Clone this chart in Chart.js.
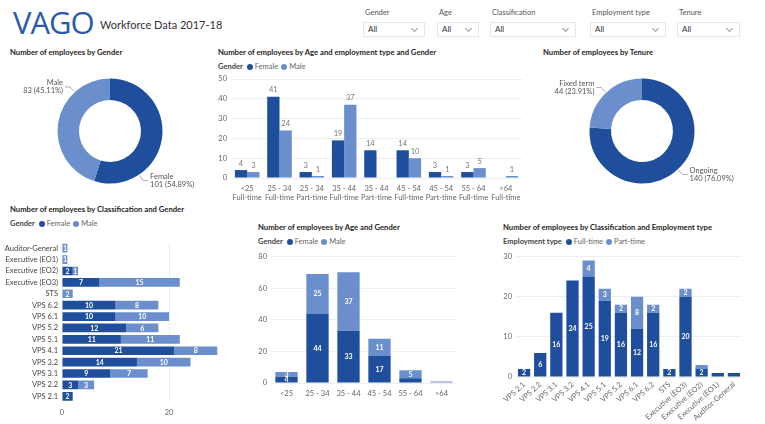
<!DOCTYPE html>
<html>
<head>
<meta charset="utf-8">
<script src="https://cdn.jsdelivr.net/npm/chart.js@4.4.0/dist/chart.umd.min.js"></script>
<style>
  body { margin: 0; width: 765px; height: 424px; background: #fff; position: relative; overflow: hidden;
         font-family: Lato, 'Open Sans', sans-serif; color: #333; }
  .abs { position: absolute; }
  canvas { position: absolute; }
  .logo { left: 13px; top: 4px; font-family: 'Open Sans', sans-serif; font-size: 31px; color: #2b5ba8; letter-spacing: -1px; line-height: 36px; }
  .sub { left: 100px; top: 18px; font-size: 11px; color: #333; line-height: 14px; }
  .slabel { font-size: 7.5px; color: #555; line-height: 9px; }
  .sel { height: 15px; border: 1px solid #e6e6e6; box-sizing: border-box; font-size: 8px; line-height: 13px; padding-left: 4px; color: #333; }
  .sel::after { content: ''; position: absolute; right: 7px; top: 3px; width: 4px; height: 4px;
                border-right: 1px solid #999; border-bottom: 1px solid #999; transform: rotate(45deg); }
  .title { font-size: 7.7px; font-weight: 700; color: #252423; line-height: 10px; white-space: nowrap; }
  .legend { font-size: 7.5px; color: #666; line-height: 10px; white-space: nowrap; }
  .legend b { color: #444; font-weight: 700; margin-right: 3px; }
  .dot { display: inline-block; width: 6px; height: 6px; border-radius: 50%; margin: 0 2px 0 1px; vertical-align: -0.5px; }
</style>
</head>
<body>
<div class="abs logo">VAGO</div>
<div class="abs sub">Workforce Data 2017-18</div>
<div id="slicers"></div>

<div class="abs title" style="left:10px;top:47px">Number of employees by Gender</div>
<div class="abs title" style="left:218px;top:47px">Number of employees by Age and employment type and Gender</div>
<div class="abs title" style="left:543px;top:47px">Number of employees by Tenure</div>
<div class="abs title" style="left:10px;top:204px">Number of employees by Classification and Gender</div>
<div class="abs title" style="left:258px;top:222px">Number of employees by Age and Gender</div>
<div class="abs title" style="left:503px;top:222px">Number of employees by Classification and Employment type</div>

<div class="abs legend" id="lg2" style="left:218px;top:62px"></div>
<div class="abs legend" id="lg4" style="left:10px;top:219px"></div>
<div class="abs legend" id="lg5" style="left:258px;top:237px"></div>
<div class="abs legend" id="lg6" style="left:503px;top:237px"></div>

<canvas id="genderChart" width="200" height="160" style="left:10px;top:51px"></canvas>
<canvas id="ageTypeChart" width="318" height="135" style="left:210px;top:70px"></canvas>
<canvas id="tenureChart" width="200" height="160" style="left:542px;top:51px"></canvas>
<canvas id="classGenderChart" width="250" height="185" style="left:0px;top:234px"></canvas>
<canvas id="ageGenderChart" width="215" height="160" style="left:250px;top:248px"></canvas>
<canvas id="classTypeChart" width="270" height="176" style="left:495px;top:248px"></canvas>

<script>
// Colours
const DARK = '#1f4e9d';
const LIGHT = '#6b8fcd';

// Slicers
const slicerNames = ['Gender', 'Age', 'Classification', 'Employment type', 'Tenure'];
const slicerLeft = [363, 437, 490, 590, 677];
const slicerWidth = [62, 42, 86, 76, 63];

// Gender donut
const genderLabels = ['Female', 'Male'];
const genderCounts = [101, 83];

// Tenure donut
const tenureLabels = ['Ongoing', 'Fixed term'];
const tenureCounts = [140, 44];

// Age and employment type and gender
const ageTypeLabels = [['<25', 'Full-time'], ['25 - 34', 'Full-time'], ['25 - 34', 'Part-time'],
  ['35 - 44', 'Full-time'], ['35 - 44', 'Part-time'], ['45 - 54', 'Full-time'],
  ['45 - 54', 'Part-time'], ['55 - 64', 'Full-time'], ['>64', 'Full-time']];
const ageTypeFemale = [4, 41, 3, 19, 14, 14, 3, 3, 0];
const ageTypeMale = [3, 24, 1, 37, 0, 10, 1, 5, 1];

// Classification and gender
const classLabels = ['Auditor-General', 'Executive (EO1)', 'Executive (EO2)', 'Executive (EO3)', 'STS',
  'VPS 6.2', 'VPS 6.1', 'VPS 5.2', 'VPS 5.1', 'VPS 4.1', 'VPS 3.2', 'VPS 3.1', 'VPS 2.2', 'VPS 2.1'];
const classFemale = [0, 0, 2, 7, 0, 10, 10, 12, 11, 21, 14, 9, 3, 2];
const classMale = [1, 1, 1, 15, 2, 8, 10, 6, 11, 8, 10, 7, 3, 0];

// Age and gender
const ageLabels = ['<25', '25 - 34', '35 - 44', '45 - 54', '55 - 64', '>64'];
const ageFemale = [4, 44, 33, 17, 3, 0];
const ageMale = [3, 25, 37, 11, 5, 1];

// Classification and employment type
const typeClassLabels = ['VPS 2.1', 'VPS 2.2', 'VPS 3.1', 'VPS 3.2', 'VPS 4.1', 'VPS 5.1', 'VPS 5.2',
  'VPS 6.1', 'VPS 6.2', 'STS', 'Executive (EO3)', 'Executive (EO2)', 'Executive (EO1)', 'Auditor-General'];
const fullTime = [2, 6, 16, 24, 25, 19, 16, 12, 16, 2, 20, 2, 1, 1];
const partTime = [0, 0, 0, 0, 4, 3, 2, 8, 2, 0, 2, 1, 0, 0];

// Build slicer boxes
const slicerHost = document.getElementById('slicers');
slicerNames.forEach((name, i) => {
  const lab = document.createElement('div');
  lab.className = 'abs slabel';
  lab.style.left = (slicerLeft[i] + 2) + 'px';
  lab.style.top = '8px';
  lab.textContent = name;
  const box = document.createElement('div');
  box.className = 'abs sel';
  box.style.left = slicerLeft[i] + 'px';
  box.style.top = '22px';
  box.style.width = slicerWidth[i] + 'px';
  box.textContent = 'All';
  slicerHost.appendChild(lab);
  slicerHost.appendChild(box);
});

// HTML legends
function makeLegend(id, title, names, colors) {
  const el = document.getElementById(id);
  let html = '<b>' + title + '</b>';
  names.forEach((n, i) => {
    html += '<span class="dot" style="background:' + colors[i] + '"></span>' + n + ' ';
  });
  el.innerHTML = html;
}
makeLegend('lg2', 'Gender', ['Female', 'Male'], [DARK, LIGHT]);
makeLegend('lg4', 'Gender', ['Female', 'Male'], [DARK, LIGHT]);
makeLegend('lg5', 'Gender', ['Female', 'Male'], [DARK, LIGHT]);
makeLegend('lg6', 'Employment type', ['Full-time', 'Part-time'], [DARK, LIGHT]);

const FONT = "Lato, 'Open Sans', sans-serif";
Chart.defaults.font.family = FONT;
Chart.defaults.font.size = 7.5;
Chart.defaults.color = '#666';
Chart.defaults.animation = false;
Chart.defaults.plugins.legend.display = false;
Chart.defaults.plugins.tooltip.enabled = false;

// Value labels on bars: above the bar ('top') or in the middle of the segment ('center')
const valueLabels = {
  id: 'valueLabels',
  afterDatasetsDraw(chart, args, opts) {
    const ctx = chart.ctx;
    const horizontal = chart.options.indexAxis === 'y';
    ctx.save();
    ctx.font = opts.font || '7px ' + FONT;
    ctx.fillStyle = opts.color || '#fff';
    ctx.textAlign = 'center';
    chart.data.datasets.forEach((ds, di) => {
      const meta = chart.getDatasetMeta(di);
      meta.data.forEach((bar, i) => {
        const v = ds.data[i];
        if (!v) return;
        const p = bar.getProps(['x', 'y', 'base'], true);
        if (opts.mode === 'top') {
          ctx.textBaseline = 'bottom';
          ctx.fillText(v, p.x, p.y - 3);
        } else {
          const size = horizontal ? Math.abs(p.x - p.base) : Math.abs(p.base - p.y);
          if (size < 4.5) return;
          ctx.textBaseline = 'middle';
          if (horizontal) ctx.fillText(v, (p.x + p.base) / 2, p.y + 0.5);
          else ctx.fillText(v, p.x, (p.y + p.base) / 2 + 0.5);
        }
      });
    });
    ctx.restore();
  }
};

// Donut callout labels with leader lines
const callouts = {
  id: 'callouts',
  afterDatasetsDraw(chart, args, opts) {
    const ctx = chart.ctx;
    const ds = chart.data.datasets[0];
    const total = ds.data.reduce((a, b) => a + b, 0);
    const meta = chart.getDatasetMeta(0);
    ctx.save();
    ctx.font = '7.5px ' + FONT;
    ctx.fillStyle = '#555';
    ctx.strokeStyle = '#999';
    ctx.lineWidth = 0.8;
    meta.data.forEach((arc, i) => {
      const f = opts.at ? opts.at[i] : 0.5;
      const a = arc.startAngle + (arc.endAngle - arc.startAngle) * f;
      const r = arc.outerRadius;
      const c = Math.cos(a), s = Math.sin(a);
      const x0 = arc.x + c * (r + 1), y0 = arc.y + s * (r + 1);
      const x1 = arc.x + c * (r + 7), y1 = arc.y + s * (r + 7);
      const dir = c >= 0 ? 1 : -1;
      const x2 = x1 + dir * 5;
      ctx.beginPath();
      ctx.moveTo(x0, y0);
      ctx.lineTo(x1, y1);
      ctx.lineTo(x2, y1);
      ctx.stroke();
      ctx.textAlign = dir > 0 ? 'left' : 'right';
      ctx.textBaseline = 'middle';
      const pct = (ds.data[i] / total * 100).toFixed(2);
      ctx.fillText(chart.data.labels[i], x2 + dir * 2, y1 - 4);
      ctx.fillText(ds.data[i] + ' (' + pct + '%)', x2 + dir * 2, y1 + 4);
    });
    ctx.restore();
  }
};

function donut(id, labels, counts, at) {
  return new Chart(document.getElementById(id), {
    type: 'doughnut',
    data: {
      labels: labels,
      datasets: [{ data: counts, backgroundColor: [DARK, LIGHT], borderWidth: 0 }]
    },
    options: {
      responsive: false,
      cutout: '59%',
      layout: { padding: 27.5 },
      plugins: { callouts: { at: at } }
    },
    plugins: [callouts]
  });
}

donut('genderChart', genderLabels, genderCounts, [0.74, 0.74]);
donut('tenureChart', tenureLabels, tenureCounts, [0.5, 0.5]);

const gridColor = '#eeeeee';

// Age and employment type and Gender (clustered)
new Chart(document.getElementById('ageTypeChart'), {
  type: 'bar',
  data: {
    labels: ageTypeLabels,
    datasets: [
      { label: 'Female', data: ageTypeFemale, backgroundColor: DARK },
      { label: 'Male', data: ageTypeMale, backgroundColor: LIGHT }
    ]
  },
  options: {
    responsive: false,
    layout: { padding: { top: 9, right: 6 } },
    datasets: { bar: { categoryPercentage: 0.76, barPercentage: 1 } },
    scales: {
      x: {
        grid: { display: false, drawTicks: false },
        border: { display: false },
        ticks: { color: '#666', padding: 6, font: { size: 7.5 }, maxRotation: 0, autoSkip: false },
        afterFit: s => { s.height = 27; }
      },
      y: {
        min: 0, max: 50,
        ticks: { stepSize: 10, color: '#666', padding: 4, font: { size: 7.5 } },
        grid: { color: gridColor, drawTicks: false },
        border: { display: false },
        afterFit: s => { s.width = 21; }
      }
    },
    plugins: { valueLabels: { mode: 'top', color: '#777', font: '7.5px ' + FONT } }
  },
  plugins: [valueLabels]
});

// Classification and Gender (horizontal stacked)
new Chart(document.getElementById('classGenderChart'), {
  type: 'bar',
  data: {
    labels: classLabels,
    datasets: [
      { label: 'Female', data: classFemale, backgroundColor: DARK },
      { label: 'Male', data: classMale, backgroundColor: LIGHT }
    ]
  },
  options: {
    responsive: false,
    indexAxis: 'y',
    layout: { padding: { top: 5, right: 6 } },
    datasets: { bar: { categoryPercentage: 0.76, barPercentage: 1 } },
    scales: {
      x: {
        stacked: true, min: 0, max: 34,
        ticks: { stepSize: 20, includeBounds: false, color: '#666', padding: 6, font: { size: 7.5 } },
        grid: { color: gridColor, drawTicks: false },
        border: { display: false },
        afterFit: s => { s.height = 17; }
      },
      y: {
        stacked: true,
        ticks: { color: '#444', padding: 4, font: { size: 7.5 }, autoSkip: false },
        grid: { display: false, drawTicks: false },
        border: { display: false },
        afterFit: s => { s.width = 62; }
      }
    },
    plugins: { valueLabels: { mode: 'center', color: '#fff', font: 'bold 7px ' + FONT } }
  },
  plugins: [valueLabels]
});

// Age and Gender (stacked)
new Chart(document.getElementById('ageGenderChart'), {
  type: 'bar',
  data: {
    labels: ageLabels,
    datasets: [
      { label: 'Female', data: ageFemale, backgroundColor: DARK },
      { label: 'Male', data: ageMale, backgroundColor: LIGHT }
    ]
  },
  options: {
    responsive: false,
    layout: { padding: { top: 6, right: 8 } },
    datasets: { bar: { categoryPercentage: 0.72, barPercentage: 1 } },
    scales: {
      x: {
        stacked: true,
        grid: { display: false, drawTicks: false },
        border: { display: false },
        ticks: { color: '#666', padding: 6, font: { size: 7.5 }, maxRotation: 0, autoSkip: false },
        afterFit: s => { s.height = 25; }
      },
      y: {
        stacked: true, min: 0, max: 80,
        ticks: { stepSize: 20, color: '#666', padding: 4, font: { size: 7.5 } },
        grid: { color: gridColor, drawTicks: false },
        border: { display: false },
        afterFit: s => { s.width = 21; }
      }
    },
    plugins: { valueLabels: { mode: 'center', color: '#fff', font: 'bold 7px ' + FONT } }
  },
  plugins: [valueLabels]
});

// Classification and Employment type (stacked)
new Chart(document.getElementById('classTypeChart'), {
  type: 'bar',
  data: {
    labels: typeClassLabels,
    datasets: [
      { label: 'Full-time', data: fullTime, backgroundColor: DARK },
      { label: 'Part-time', data: partTime, backgroundColor: LIGHT }
    ]
  },
  options: {
    responsive: false,
    layout: { padding: { top: 6, right: 23 } },
    datasets: { bar: { categoryPercentage: 0.76, barPercentage: 1 } },
    scales: {
      x: {
        stacked: true,
        grid: { display: false, drawTicks: false },
        border: { display: false },
        ticks: { color: '#666', padding: 3, font: { size: 7.5 }, minRotation: 42, maxRotation: 42, autoSkip: false },
        afterFit: s => { s.height = 47; }
      },
      y: {
        stacked: true, min: 0, max: 30,
        ticks: { stepSize: 10, color: '#666', padding: 4, font: { size: 7.5 } },
        grid: { color: gridColor, drawTicks: false },
        border: { display: false },
        afterFit: s => { s.width = 21; }
      }
    },
    plugins: { valueLabels: { mode: 'center', color: '#fff', font: 'bold 7px ' + FONT } }
  },
  plugins: [valueLabels]
});
</script>
</body>
</html>
